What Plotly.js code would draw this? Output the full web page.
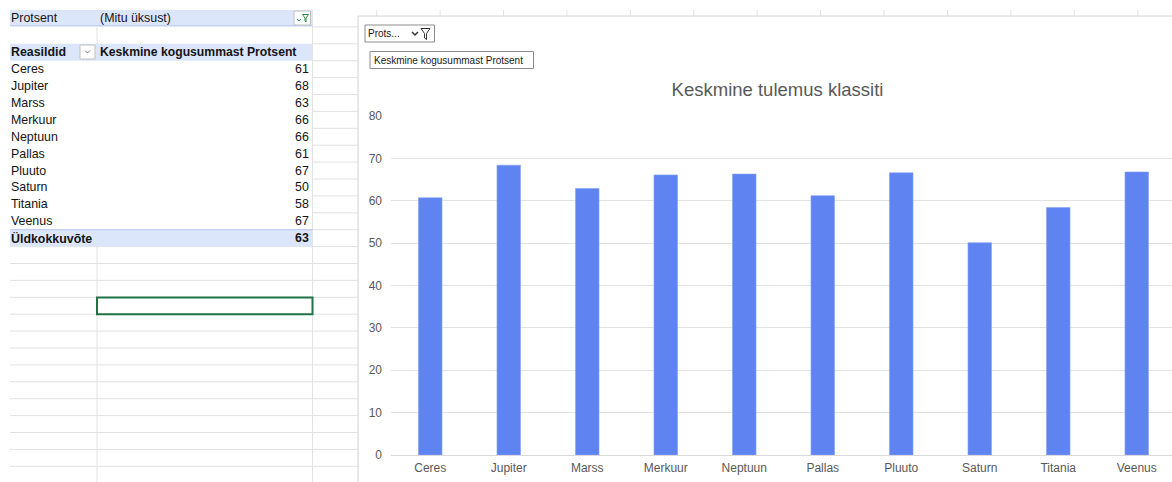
<!DOCTYPE html>
<html>
<head>
<meta charset="utf-8">
<script src="https://cdn.plot.ly/plotly-3.0.1.min.js"></script>
<style>
html,body{margin:0;padding:0;background:#fff;overflow:hidden;width:1172px;height:482px;}
#chart{width:1180px;height:482px;}
</style>
</head>
<body>
<div id="chart"></div>
<script>
// ---- data ----
const categories = ["Ceres","Jupiter","Marss","Merkuur","Neptuun","Pallas","Pluuto","Saturn","Titania","Veenus"];
const averages = [60.7, 68.4, 62.9, 66.1, 66.3, 61.2, 66.6, 50.1, 58.4, 66.8];
const pivotValues = [61, 68, 63, 66, 66, 61, 67, 50, 58, 67];
const pivotTotalLabel = "Üldkokkuvõte";
const pivotTotal = 63;
const filterField = "Protsent";
const filterValue = "(Mitu üksust)";
const rowHeader = "Reasildid";
const valueHeader = "Keskmine kogusummast Protsent";
const chartTitle = "Keskmine tulemus klassiti";
const yTickValues = [0,10,20,30,40,50,60,70,80];

// ---- layout helpers (pixel -> paper) ----
const W = 1180, H = 482;
const px = x => x / W;
const py = y => 1 - y / H;
const ROW0 = 10, RH = 16.9;
const rowTop = k => ROW0 + RH * k;
const rowMid = k => ROW0 + RH * k + RH / 2;

const FONT = "Liberation Sans, Arial, sans-serif";
const GRID = "#e2e2e2";
const PIVOT_BLUE = "#dce6fb";
const PIVOT_LINE = "#b4c6ee";
const CELL_SIZE = 12.4;

const shapes = [];
const annotations = [];

function line(x0, y0, x1, y1, color, width) {
  shapes.push({type: "line", xref: "paper", yref: "paper", x0: px(x0), y0: py(y0), x1: px(x1), y1: py(y1),
    line: {color: color, width: width || 1}, layer: "below"});
}
function rect(x0, y0, x1, y1, fill, lc, lw) {
  shapes.push({type: "rect", xref: "paper", yref: "paper", x0: px(x0), y0: py(y0), x1: px(x1), y1: py(y1),
    fillcolor: fill, line: {color: lc || "rgba(0,0,0,0)", width: lw === undefined ? 1 : lw}, layer: "below"});
}
function path(pts, color, width, fill) {
  const d = pts.map((p, i) => (i ? "L" : "M") + px(p[0]) + "," + py(p[1])).join(" ") + (fill ? " Z" : "");
  shapes.push({type: "path", xref: "paper", yref: "paper", path: d,
    line: {color: color, width: width || 1}, fillcolor: fill || "rgba(0,0,0,0)", layer: "above"});
}
function text(x, y, t, anchor, size, color, family) {
  annotations.push({xref: "paper", yref: "paper", x: px(x), y: py(y), text: t, showarrow: false,
    xanchor: anchor || "left", yanchor: "middle", borderpad: 0,
    font: {family: family || FONT, size: size || CELL_SIZE, color: color || "#141414"}});
}

// ---- spreadsheet grid ----
const nRows = 28;
for (let k = 1; k < nRows; k++) {
  const y = rowTop(k);
  if (y > H) break;
  if (k >= 14) line(10, y, 358, y, GRID, 1);
  else line(312.5, y, 358, y, GRID, 1);
}
line(312.5, ROW0, 312.5, H, GRID, 1);
line(97, rowTop(1), 97, rowTop(2), GRID, 1);
line(97, rowTop(14), 97, H, GRID, 1);

// pivot bands
rect(10, rowTop(0), 312.5, rowTop(1) - 1, PIVOT_BLUE);
line(10, rowTop(1) - 1, 312.5, rowTop(1) - 1, PIVOT_LINE, 1);
rect(10, rowTop(2), 312.5, rowTop(3), PIVOT_BLUE);
rect(10, rowTop(13), 312.5, rowTop(14), PIVOT_BLUE);
line(10, rowTop(13), 312.5, rowTop(13), PIVOT_LINE, 1);

// filter button in row 1
rect(294, 11, 310.5, 25, "#ffffff", "#bfbfbf", 1);
path([[297, 19], [299, 21], [301, 19]], "#2e8b3e", 1);
path([[302.5, 14.5], [308.5, 14.5], [306, 18], [306, 22], [305, 21], [305, 18]], "#2e8b3e", 1, "rgba(0,0,0,0)");
// dropdown button in header row
rect(80, 45, 95, 59, "#ffffff", "#bfbfbf", 1);
path([[85, 50.5], [87.5, 53], [90, 50.5]], "#7f7f7f", 1);

// selected cell
shapes.push({type: "rect", xref: "paper", yref: "paper", x0: px(97), y0: py(297.5), x1: px(312.5), y1: py(314.2),
  line: {color: "#217346", width: 2}, fillcolor: "rgba(0,0,0,0)", layer: "above"});

// pivot texts
text(10, rowMid(0), filterField);
text(99, rowMid(0), filterValue);
text(10, rowMid(2), "<b>" + rowHeader + "</b>");
text(99, rowMid(2), "<b>" + valueHeader + "</b>", "left", 12.2);
categories.forEach((c, i) => {
  text(10, rowMid(3 + i), c);
  text(310, rowMid(3 + i), String(pivotValues[i]), "right");
});
text(10, rowMid(13), "<b>" + pivotTotalLabel + "</b>");
text(310, rowMid(13), "<b>" + pivotTotal + "</b>", "right");

// ---- chart frame ----
for (let i = 0; i < 13; i++) {
  const x = 376.7 + 63.42 * i;
  line(x, ROW0, x, 16, GRID, 1);
}
line(358, 16, W, 16, "#d4d4d4", 1);
line(358, 16, 358, H, "#d4d4d4", 1);

// field buttons
rect(365, 25, 434.5, 42, "#ffffff", "#8c8c8c", 1);
text(367, 33.5, filterField.slice(0, 5) + "...", "left", 10, "#1a1a1a");
path([[412, 32], [415, 35], [418, 32]], "#333333", 1.5);
path([[421, 28.5], [430, 28.5], [426.5, 33.5], [426.5, 39.5], [424.5, 38], [424.5, 33.5]], "#333333", 1, "rgba(0,0,0,0)");
rect(370, 51.5, 533.5, 68.5, "#ffffff", "#8c8c8c", 1);
text(372.5, 60, valueHeader, "left", 10, "#1a1a1a");

// ---- plot ----
const trace = {
  type: "bar",
  x: categories,
  y: averages,
  marker: {color: "#5f84f2", line: {color: "#86a3f5", width: 0.6}},
  hoverinfo: "skip"
};

const layout = {
  width: W, height: H, autosize: false,
  margin: {l: 0, r: 0, t: 0, b: 0, pad: 0},
  paper_bgcolor: "rgba(0,0,0,0)",
  plot_bgcolor: "rgba(0,0,0,0)",
  showlegend: false,
  bargap: 0.7,
  title: {text: chartTitle, x: px(777.5), xanchor: "center", y: py(90), yanchor: "middle", xref: "paper", yref: "paper",
    font: {family: FONT, size: 18.5, color: "#595959"}},
  xaxis: {
    type: "category",
    domain: [px(391), px(1176)],
    showgrid: false, showline: false, ticks: "", zeroline: false,
    tickfont: {family: FONT, size: 12, color: "#595959"},
    ticklabelstandoff: 4,
    fixedrange: true
  },
  yaxis: {
    domain: [py(455), py(116)],
    range: [0, 80],
    tickvals: yTickValues,
    showgrid: true, gridcolor: GRID, gridwidth: 1,
    zeroline: true, zerolinecolor: "#d9d9d9", zerolinewidth: 1,
    showline: false, ticks: "",
    tickfont: {family: FONT, size: 12, color: "#595959"},
    ticklabelstandoff: 8,
    fixedrange: true
  },
  shapes: shapes,
  annotations: annotations
};

Plotly.newPlot("chart", [trace], layout, {displayModeBar: false, staticPlot: true});
</script>
</body>
</html>
